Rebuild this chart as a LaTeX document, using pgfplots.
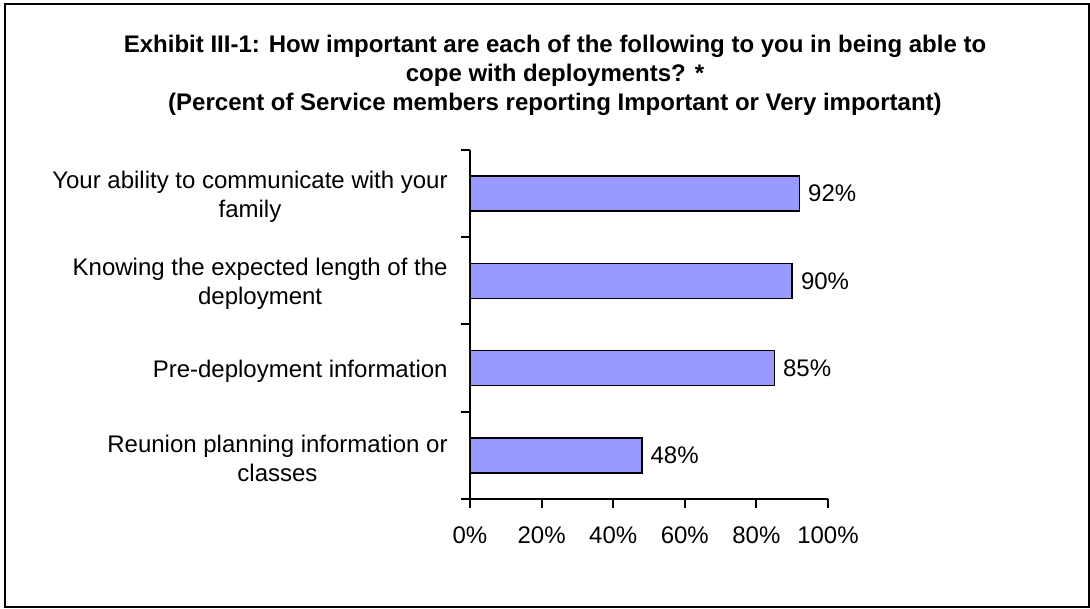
\documentclass[12pt,border=0pt]{standalone}
\usepackage{fontspec}
\setmainfont{Liberation Sans}
\usepackage{pgfplots}
\pgfplotsset{compat=1.18}
\definecolor{barblue}{HTML}{9999FF}

\begin{document}
\begin{tikzpicture}
% overall frame, 1 px = 0.5pt, origin at the lower left of the plot area
\useasboundingbox (-235pt,-55pt) rectangle (310pt,249.5pt);
\begin{axis}[
    at={(0pt,0pt)}, anchor=south west,
    scale only axis,
    width=179pt, height=174.5pt,
    xbar, bar width=17.5pt,
    xmin=0, xmax=100,
    ymin=-0.5, ymax=3.5,
    axis lines*=left,
    axis line style={line width=1pt},
    tick align=outside,
    major tick length=4.5pt,
    tick style={line width=1pt, black},
    /pgf/number format/assume math mode=true,
    xtick={0,20,40,60,80,100},
    xticklabels={0\%,20\%,40\%,60\%,80\%,100\%},
    x tick label style={yshift=-5pt},
    ytick={-0.5,0.5,1.5,2.5,3.5},
    yticklabels={},
    extra y ticks={0,1,2,3},
    extra y tick labels={Reunion planning information or\\classes,
                         Pre-deployment information,
                         Knowing the expected length of the\\deployment,
                         Your ability to communicate with your\\family},
    extra y tick style={major tick length=0pt, tick style={draw=none},
        tick label style={align=center, xshift=-7pt, yshift=-1.5pt}},
    nodes near coords={\pgfmathprintnumber{\pgfplotspointmeta}\%},
    point meta=x,
    nodes near coords style={anchor=west, black},
]
\addplot[draw=black, line width=0.8pt, fill=barblue] coordinates {
    (48,0) (85,1) (90,2) (92,3)
};
\end{axis}
\draw[line width=1pt] (-232.5pt,-54pt) rectangle (309.5pt,247.5pt);
\node[align=center, font=\bfseries] at (42.5pt,212pt)
    {Exhibit III-1: How important are each of the following to you in being able to\\
     cope with deployments? *\\
     (Percent of Service members reporting Important or Very important)};
\end{tikzpicture}
\end{document}
